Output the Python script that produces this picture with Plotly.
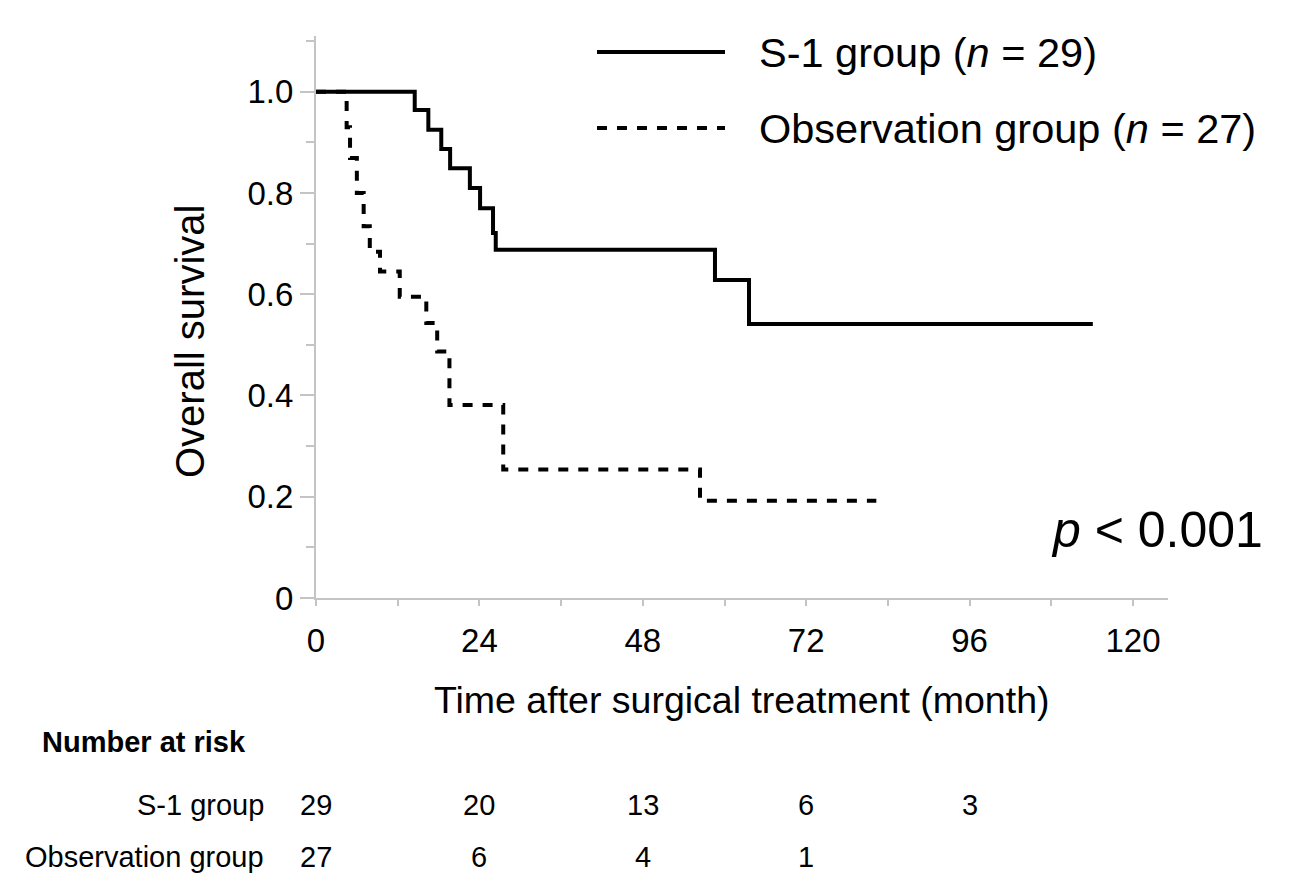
import plotly.graph_objects as go

# ---- data ----
s1_time = [0, 14.5, 16.5, 18.4, 19.7, 22.6, 24.1, 26.0, 26.4, 58.6, 63.6, 114.1]
s1_surv = [1.0, 0.964, 0.925, 0.887, 0.849, 0.810, 0.770, 0.721, 0.688, 0.628, 0.541, 0.541]

obs_time = [0, 4.5, 5.0, 6.0, 7.0, 7.9, 9.4, 12.3, 16.2, 17.8, 19.6, 27.5, 56.4, 82.3]
obs_surv = [1.0, 0.93, 0.869, 0.80, 0.734, 0.684, 0.645, 0.595, 0.543, 0.487, 0.381, 0.254, 0.192, 0.192]

risk_times = [0, 24, 48, 72, 96]
s1_risk = [29, 20, 13, 6, 3]
obs_risk = [27, 6, 4, 1]

x_tickvals = list(range(0, 121, 12))
x_ticktext = [str(v) if v % 24 == 0 else "" for v in x_tickvals]
y_tickvals = [0, 0.2, 0.4, 0.6, 0.8, 1.0]
y_ticktext = ["0", "0.2", "0.4", "0.6", "0.8", "1.0"]

s1_name = "S-1 group (<i>n</i> = 29)"
obs_name = "Observation group (<i>n</i> = 27)"

# ---- layout geometry (pixels in the reference picture) ----
OFF = 8  # page body margin
W, H = 1290, 890
L, R, T, B = 316 - OFF, 1168 - OFF, 36 - OFF, 598 - OFF
FONT = "Liberation Sans, Arial, sans-serif"
AXC = "#c4c4c4"
LW = 4


def px(xp):
    return (xp - OFF - L) / (R - L)


def py(yp):
    return (B - (yp - OFF)) / (B - T)


fig = go.Figure()
fig.add_trace(go.Scatter(x=obs_time, y=obs_surv, mode="lines", line_shape="hv",
                         line=dict(color="black", width=LW, dash="10px,10px"),
                         name=obs_name))
fig.add_trace(go.Scatter(x=s1_time, y=s1_surv, mode="lines", line_shape="hv",
                         line=dict(color="black", width=LW), name=s1_name))

ann = []
# legend
ann.append(dict(text=s1_name, x=px(757), y=py(52), xref="paper", yref="paper",
                xanchor="left", yanchor="middle", showarrow=False,
                font=dict(size=41.5, family=FONT, color="black")))
ann.append(dict(text=obs_name, x=px(757), y=py(128), xref="paper", yref="paper",
                xanchor="left", yanchor="middle", showarrow=False,
                font=dict(size=41.5, family=FONT, color="black")))
# p-value
ann.append(dict(text="<i>p</i> < 0.001", x=px(1265), y=py(530), xref="paper", yref="paper",
                xanchor="right", yanchor="middle", showarrow=False,
                font=dict(size=50, family=FONT, color="black")))
# axis titles
ann.append(dict(text="Time after surgical treatment (month)", x=px(741), y=py(700),
                xref="paper", yref="paper", xanchor="center", yanchor="middle",
                showarrow=False, font=dict(size=37.5, family=FONT, color="black")))
ann.append(dict(text="Overall survival", x=px(190), y=py(342), xref="paper", yref="paper",
                xanchor="center", yanchor="middle", textangle=-90, showarrow=False,
                font=dict(size=40, family=FONT, color="black")))
# number at risk table
ann.append(dict(text="<b>Number at risk</b>", x=px(40), y=py(742), xref="paper", yref="paper",
                xanchor="left", yanchor="middle", showarrow=False,
                font=dict(size=29, family=FONT, color="black")))
ann.append(dict(text="S-1 group", x=px(266), y=py(805), xref="paper", yref="paper",
                xanchor="right", yanchor="middle", showarrow=False,
                font=dict(size=29, family=FONT, color="black")))
ann.append(dict(text="Observation group", x=px(266), y=py(857), xref="paper", yref="paper",
                xanchor="right", yanchor="middle", showarrow=False,
                font=dict(size=29, family=FONT, color="black")))
for t, n in zip(risk_times, s1_risk):
    ann.append(dict(text=str(n), x=t, y=py(805), xref="x", yref="paper",
                    xanchor="center", yanchor="middle", showarrow=False,
                    font=dict(size=29, family=FONT, color="black")))
for t, n in zip(risk_times, obs_risk):
    ann.append(dict(text=str(n), x=t, y=py(857), xref="x", yref="paper",
                    xanchor="center", yanchor="middle", showarrow=False,
                    font=dict(size=29, family=FONT, color="black")))

shapes = [
    dict(type="line", xref="paper", yref="paper", x0=px(597), x1=px(725), y0=py(52), y1=py(52),
         line=dict(color="black", width=LW)),
    dict(type="line", xref="paper", yref="paper", x0=px(597), x1=px(725), y0=py(128), y1=py(128),
         line=dict(color="black", width=LW, dash="10px,10px")),
]

x_max = 120 * (1168 - 316) / (1133 - 316)
fig.update_layout(
    width=W, height=H,
    margin=dict(l=L, r=W - R, t=T, b=H - B, pad=0),
    paper_bgcolor="white", plot_bgcolor="white",
    showlegend=False,
    font=dict(family=FONT, color="black"),
    annotations=ann, shapes=shapes,
    xaxis=dict(range=[0, x_max], showgrid=False, zeroline=False,
               showline=True, linecolor=AXC, linewidth=2,
               ticks="outside", ticklen=6, tickwidth=2, tickcolor=AXC,
               tickvals=x_tickvals, ticktext=x_ticktext,
               tickfont=dict(size=33, family=FONT, color="black"),
               ticklabelstandoff=6),
    yaxis=dict(range=[0, 1.11], showgrid=False, zeroline=False,
               showline=True, linecolor=AXC, linewidth=2,
               ticks="outside", ticklen=14, tickwidth=2, tickcolor=AXC,
               tickvals=y_tickvals, ticktext=y_ticktext,
               tickfont=dict(size=33, family=FONT, color="black"),
               minor=dict(dtick=0.1, tick0=0, ticks="outside", ticklen=8,
                          tickwidth=2, tickcolor=AXC, showgrid=False)),
)

fig.write_html("out.html")
